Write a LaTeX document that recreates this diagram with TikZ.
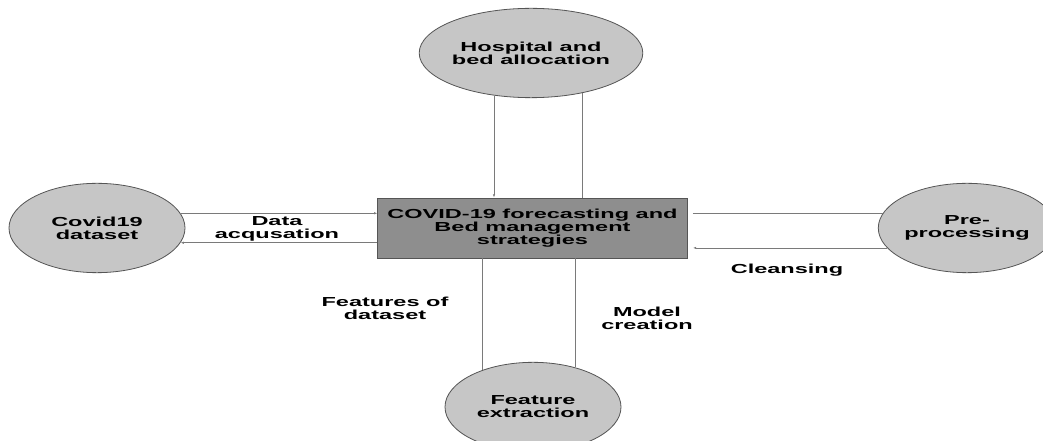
\documentclass[tikz,border=0pt]{standalone}
\usepackage{fontspec}
\setmainfont[FakeStretch=1.8]{Liberation Sans Bold}
\usetikzlibrary{shapes.geometric,arrows.meta}

\newcommand*{\figw}{1043}
\newcommand*{\figh}{441}

\definecolor{bubblegray}{HTML}{C6C6C6}
\definecolor{boxgray}{HTML}{8E8E8E}
\definecolor{edgegray}{HTML}{555555}
\definecolor{linegray}{HTML}{7A7A7A}

\begin{document}
\begin{tikzpicture}
[
	x=0.75pt, y=-0.75pt,
	bubble/.style={ellipse,draw=edgegray,fill=bubblegray,line width=0.6pt,minimum width=132pt,minimum height=67pt,inner sep=0pt,align=center,font=\fontsize{9.8}{9.8}\selectfont},
	mainbox/.style={rectangle,draw=edgegray,fill=boxgray,line width=0.6pt,minimum width=232pt,minimum height=45pt,inner sep=0pt,align=center,font=\fontsize{9.8}{9.8}\selectfont},
	tag/.style={inner sep=0pt,align=center,font=\fontsize{9.8}{9.8}\selectfont},
	link/.style={draw=linegray,line width=0.6pt},
	tip/.style={-{Latex[length=2.5pt,width=1.8pt]}}
]

	% frame
	\clip (0,0) rectangle (\figw,\figh);
	\fill[white] (0,0) rectangle (\figw,\figh);

	% nodes
	\node[mainbox] (box) at (532.5,228) {COVID-19 forecasting and\\Bed management\\strategies};
	\node[bubble] (hosp) at (531,53) {Hospital and\\bed allocation};
	\node[bubble] (data) at (97,228) {Covid19\\dataset};
	\node[bubble] (pre) at (967,228) {Pre-\\processing};
	\node[bubble] (feat) at (533,407) {Feature\\extraction};

	% top links
	\draw[link,tip] (hosp.229) -- (hosp.229 |- box.north);
	\draw[link] (hosp.322 |- box.north) -- (hosp.322);

	% left links
	\draw[link,tip] (data.10) -- (data.10 -| box.west);
	\draw[link,tip] (data.-10 -| box.west) -- (data.-10);

	% right links
	\draw[link] ([xshift=4pt]box.east |- pre.170) -- (pre.170);
	\draw[link,tip] (pre.194) -- ([xshift=4pt]pre.194 -| box.east);

	% bottom links
	\draw[link] (feat.144 |- box.south) -- (feat.144);
	\draw[link] (feat.43) -- (feat.43 |- box.south);

	% labels
	\node[tag] (acq) at (277,229) {Data\\acqusation};
	\node[tag] (clean) at (787,270) {Cleansing};
	\node[tag] (fod) at (385,308) {Features of\\dataset};
	\node[tag] (model) at (647,318) {Model\\creation};

\end{tikzpicture}
\end{document}
